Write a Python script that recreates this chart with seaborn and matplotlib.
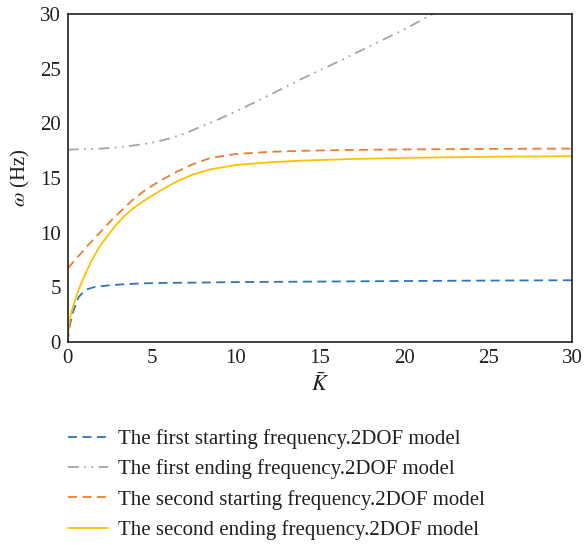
import numpy as np
import pandas as pd
import matplotlib
matplotlib.use("Agg")
import matplotlib.pyplot as plt
import seaborn as sns

# K-bar values and frequencies
k_first_start = [0, 0.05, 0.14, 0.34, 0.64, 1.03, 1.63, 2.6, 3.5, 4.6, 6, 7.4, 10, 15, 20, 25, 30]
w_first_start = [0, 0.9, 1.7, 2.9, 4.1, 4.76, 5.06, 5.2, 5.3, 5.37, 5.41, 5.43, 5.48, 5.53, 5.58, 5.62, 5.65]

k_first_end = [0, 2, 3.5, 4.9, 6, 7, 7.9, 9, 10, 12, 13.8, 16, 18, 20, 21.7, 22.5]
w_first_end = [17.6, 17.7, 17.9, 18.2, 18.6, 19.1, 19.7, 20.4, 21.1, 22.6, 24.0, 25.6, 27.1, 28.6, 30.0, 30.6]

k_second_start = [0, 0.4, 0.83, 1.2, 1.87, 2.5, 3.1, 3.85, 4.6, 5.43, 6.5, 7.4, 8.5, 10, 12, 14, 17, 20, 25, 30]
w_second_start = [6.75, 7.45, 8.2, 8.85, 9.95, 11.0, 11.9, 13.0, 13.9, 14.7, 15.6, 16.25, 16.85, 17.2, 17.4, 17.5, 17.58, 17.62, 17.67, 17.7]

k_second_end = [0, 0.02, 0.05, 0.14, 0.24, 0.44, 0.67, 1.0, 1.4, 1.87, 2.4, 2.86, 3.35, 3.85, 4.8, 5.73, 6.5, 7.4, 8.5, 10, 12, 14, 17, 20, 25, 30]
w_second_end = [0, 0.8, 1.3, 2.2, 2.9, 3.9, 4.9, 6.1, 7.4, 8.7, 9.8, 10.7, 11.5, 12.2, 13.2, 14.06, 14.7, 15.3, 15.8, 16.2, 16.45, 16.6, 16.75, 16.85, 16.95, 17.0]

labels = [
    "The first starting frequency.2DOF model",
    "The first ending frequency.2DOF model",
    "The second starting frequency.2DOF model",
    "The second ending frequency.2DOF model",
]
colors = ["#2E75B6", "#A5A5A5", "#ED7D31", "#FFC000"]
dashes = [(5, 3), (6, 3, 1, 3, 1, 3), (5, 3), ()]

sns.set_style("white")
plt.rcParams["font.family"] = ["Liberation Serif", "DejaVu Serif"]
plt.rcParams["mathtext.fontset"] = "stix"

fig = plt.figure(figsize=(5.85, 5.45), dpi=100)
ax = fig.add_axes([0.116, 0.3725, 0.862, 0.6015])

series = [
    (k_first_start, w_first_start),
    (k_first_end, w_first_end),
    (k_second_start, w_second_start),
    (k_second_end, w_second_end),
]
for (k, w), lab, col, d in zip(series, labels, colors, dashes):
    df = pd.DataFrame({"K": k, "w": w})
    sns.lineplot(data=df, x="K", y="w", ax=ax, color=col, label=lab,
                 linewidth=1.3, estimator=None, sort=False)
    ln = ax.get_lines()[-1]
    if d:
        ln.set_dashes(d)

ax.set_xlim(0, 30)
ax.set_ylim(0, 30)
ax.set_xticks([0, 5, 10, 15, 20, 25, 30])
ax.set_yticks([0, 5, 10, 15, 20, 25, 30])
ax.tick_params(length=0, labelsize=15, pad=5, colors="#231F20")
ax.set_xlabel(r"$\bar{K}$", fontsize=16, labelpad=4, color="#231F20")
ax.set_ylabel(r"$\omega$ (Hz)", fontsize=15, labelpad=6, color="#231F20")
for sp in ax.spines.values():
    sp.set_visible(True)
    sp.set_color("#231F20")
    sp.set_linewidth(1.2)

handles, labs = ax.get_legend_handles_labels()
ax.get_legend().remove()
leg = fig.legend(handles, labs, loc="upper left", bbox_to_anchor=(0.102, 0.228),
                 frameon=False, fontsize=15, handlelength=1.9, handletextpad=0.5,
                 labelspacing=0.5, borderaxespad=0)
for t in leg.get_texts():
    t.set_color("#231F20")

fig.savefig("out.png", dpi=100)
